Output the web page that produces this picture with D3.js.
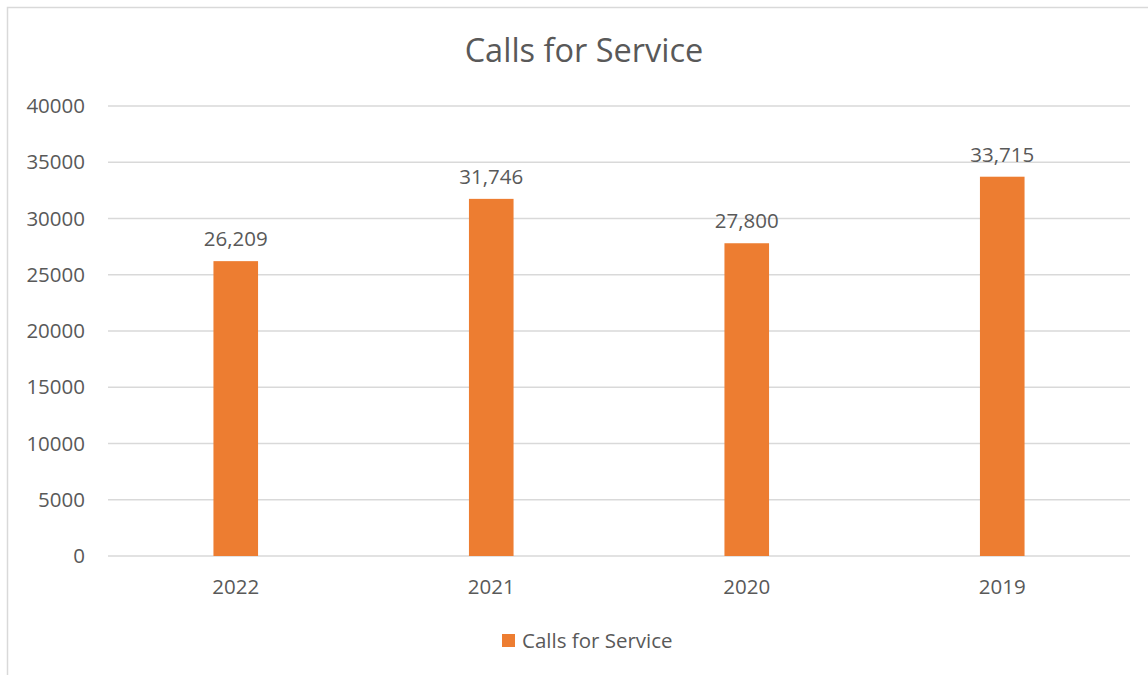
<!DOCTYPE html>
<html lang="en">
<head>
  <meta charset="UTF-8">
  <title>Calls for Service</title>
  <script src="https://d3js.org/d3.v7.min.js"></script>
  <style>
    body { margin: 0; padding: 0; background: #fff; font-family: 'Open Sans', 'Liberation Sans', sans-serif; }
    svg text { fill: #595959; }
  </style>
</head>
<body>
  <svg id="chart"></svg>
  <script>
    // chart data
    const years = ["2022", "2021", "2020", "2019"];
    const calls = [26209, 31746, 27800, 33715];
    const yTicks = [0, 5000, 10000, 15000, 20000, 25000, 30000, 35000, 40000];
    const seriesName = "Calls for Service";

    const width = 1148, height = 675;
    const fs = "20.5px";
    const svg = d3.select("#chart").attr("width", width).attr("height", height);

    // outer chart border (runs off the right and bottom edges)
    svg.append("rect")
      .attr("x", 7.5).attr("y", 7.5)
      .attr("width", width + 10).attr("height", height + 10)
      .attr("fill", "none").attr("stroke", "#d9d9d9").attr("stroke-width", 1.5);

    const plot = { left: 108, right: 1130, top: 106, bottom: 556 };

    const x = d3.scaleBand().domain(years).range([plot.left, plot.right]).paddingInner(0).paddingOuter(0);
    const y = d3.scaleLinear().domain([0, 40000]).range([plot.bottom, plot.top]);

    // title
    svg.append("text")
      .attr("x", 584).attr("y", 62)
      .attr("text-anchor", "middle")
      .style("font-size", "32.5px")
      .text(seriesName);

    // gridlines
    svg.append("g")
      .selectAll("line").data(yTicks).join("line")
      .attr("x1", plot.left).attr("x2", plot.right)
      .attr("y1", d => y(d)).attr("y2", d => y(d))
      .attr("stroke", "#d9d9d9").attr("stroke-width", 1.5);

    // y axis labels
    const yAxis = d3.axisLeft(y).tickValues(yTicks).tickSize(0).tickPadding(0).tickFormat(d3.format("d"));
    const gy = svg.append("g").attr("transform", `translate(${plot.left - 23},0)`).call(yAxis);
    gy.select(".domain").remove();
    gy.selectAll("text").style("font-size", fs).style("font-family", "'Open Sans', sans-serif").attr("fill", "#595959");

    // x axis labels
    const xAxis = d3.axisBottom(x).tickSize(0).tickPadding(0);
    const gx = svg.append("g").attr("transform", `translate(0,${plot.bottom + 23})`).call(xAxis);
    gx.select(".domain").remove();
    gx.selectAll("text").style("font-size", fs).style("font-family", "'Open Sans', sans-serif").attr("fill", "#595959");

    // bars
    const barW = 44.6;
    svg.append("g")
      .selectAll("rect").data(years).join("rect")
      .attr("x", d => x(d) + x.bandwidth() / 2 - barW / 2)
      .attr("width", barW)
      .attr("y", (d, i) => y(calls[i]))
      .attr("height", (d, i) => plot.bottom - y(calls[i]))
      .attr("fill", "#ed7d31");

    // data labels
    svg.append("g")
      .selectAll("text").data(years).join("text")
      .attr("x", d => x(d) + x.bandwidth() / 2)
      .attr("y", (d, i) => y(calls[i]) - 15)
      .attr("text-anchor", "middle")
      .style("font-size", fs)
      .text((d, i) => d3.format(",")(calls[i]));

    // legend
    const lg = svg.append("g").attr("transform", "translate(502,634)");
    lg.append("rect").attr("width", 13).attr("height", 13).attr("fill", "#ed7d31");
    lg.append("text").attr("x", 20).attr("y", 14).style("font-size", fs).text(seriesName);
  </script>
</body>
</html>
